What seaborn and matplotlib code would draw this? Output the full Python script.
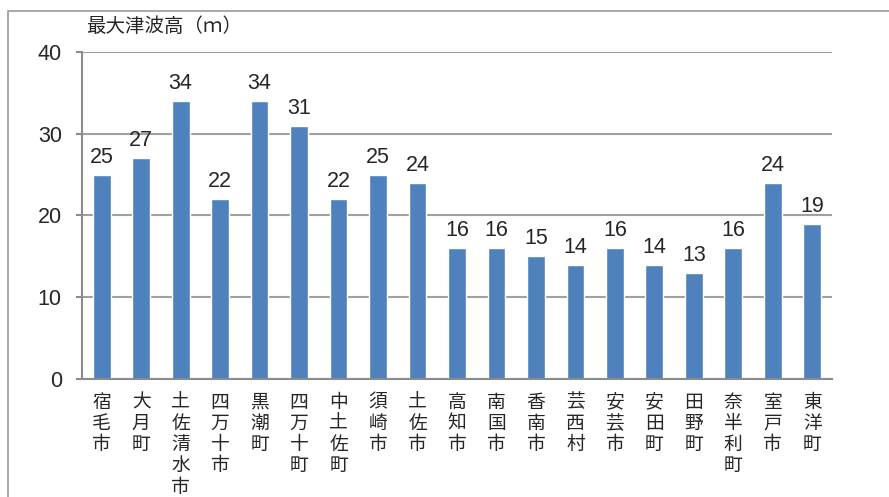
import matplotlib
matplotlib.use("Agg")
import matplotlib.pyplot as plt
import seaborn as sns
import pandas as pd
from matplotlib.patches import Rectangle

towns = ["宿毛市", "大月町", "土佐清水市", "四万十市", "黒潮町", "四万十町", "中土佐町",
         "須崎市", "土佐市", "高知市", "南国市", "香南市", "芸西村", "安芸市", "安田町",
         "田野町", "奈半利町", "室戸市", "東洋町"]
max_tsunami = [25, 27, 34, 22, 34, 31, 22, 25, 24, 16, 16, 15, 14, 16, 14, 13, 16, 24, 19]
yticks = [0, 10, 20, 30, 40]
title = "最大津波高（ｍ）"

df = pd.DataFrame({"town": towns, "height": max_tsunami})

sns.set_theme(style="white")
plt.rcParams["font.family"] = ["Liberation Sans", "Noto Sans CJK JP", "DejaVu Sans"]

fig = plt.figure(figsize=(8.89, 4.97), dpi=100)
ax = fig.add_axes([0.0922, 0.2374, 0.8437, 0.658])

# outer frame (cropped chart area border)
fig.patches.append(Rectangle((8 / 889, -0.1), 1.2, 1 - 11 / 497 + 0.1, transform=fig.transFigure,
                             fill=False, edgecolor="#9a9a9a", linewidth=1.2))

sns.barplot(data=df, x="town", y="height", color="#4F81BD", saturation=1, width=0.45, ax=ax)

ax.set_ylim(0, 40)
ax.set_yticks(yticks)
ax.set_xlim(-0.5, len(towns) - 0.5)
ax.yaxis.grid(True, color="#a0a0a0", linewidth=1.5)
ax.set_axisbelow(True)
for s in ["top", "right"]:
    ax.spines[s].set_visible(False)
ax.spines["left"].set_color("#8c8c8c")
ax.spines["bottom"].set_color("#8c8c8c")
ax.spines["left"].set_linewidth(1.5)
ax.spines["bottom"].set_linewidth(1.5)
ax.tick_params(axis="y", left=True, length=4.5, color="#8c8c8c", width=1.5, labelsize=15.5, pad=10)
ax.tick_params(axis="x", bottom=False, pad=3)

ax.set_xticks(range(len(towns)))
ax.set_xticklabels(["\n".join(t) for t in towns], fontsize=13.5, va="top", linespacing=1.02,
                   family=["Noto Sans CJK JP"])
ax.set_xlabel("")
ax.set_ylabel("")

ax.bar_label(ax.containers[0], labels=[str(v) for v in max_tsunami], fontsize=15.5, padding=5)

fig.text(86 / 889, 1 - 27 / 497, title, fontsize=14, va="center", ha="left",
         family=["Noto Sans CJK JP"])

fig.savefig("out.png", dpi=100)
